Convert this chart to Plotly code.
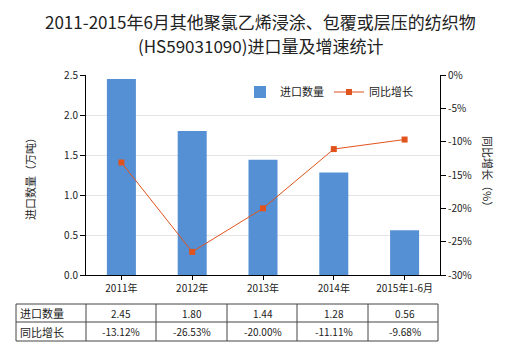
import plotly.graph_objects as go

categories = ["2011年", "2012年", "2013年", "2014年", "2015年1-6月"]
import_qty = [2.45, 1.80, 1.44, 1.28, 0.56]
growth = [-13.12, -26.53, -20.00, -11.11, -9.68]
qty_labels = ["2.45", "1.80", "1.44", "1.28", "0.56"]
growth_labels = ["-13.12%", "-26.53%", "-20.00%", "-11.11%", "-9.68%"]
left_ticks = [0, 0.5, 1.0, 1.5, 2.0, 2.5]
left_ticktext = ["0.0", "0.5", "1.0", "1.5", "2.0", "2.5"]
right_ticks = [0, -5, -10, -15, -20, -25, -30]
right_ticktext = ["0%", "-5%", "-10%", "-15%", "-20%", "-25%", "-30%"]
row_names = ["进口数量", "同比增长"]
title_lines = ["2011-2015年6月其他聚氯乙烯浸涂、包覆或层压的纺织物", "(HS59031090)进口量及增速统计"]

FONT = "Noto Sans CJK SC"
BAR = "#5590D5"
LINE = "#E0531C"

fig = go.Figure()
fig.add_trace(go.Bar(x=categories, y=import_qty, name="进口数量",
                     marker=dict(color=BAR, line=dict(width=0)), width=0.41))
fig.add_trace(go.Scatter(x=categories, y=growth, name="同比增长", yaxis="y2",
                         mode="lines+markers",
                         line=dict(color=LINE, width=1),
                         marker=dict(symbol="square", size=6, color=LINE)))

W, H = 520, 350
L, R, T, B = 86, 80, 75, 75
ph = H - T - B
pw = W - L - R

fig.update_layout(
    width=W, height=H, margin=dict(l=L, r=R, t=T, b=B),
    paper_bgcolor="white", plot_bgcolor="white",
    font=dict(family=FONT, size=10, color="#222"),
    showlegend=True,
    legend=dict(orientation="h", x=0.435, y=0.915, xanchor="left", yanchor="middle",
                bgcolor="rgba(0,0,0,0)", font=dict(size=11, color="#222"),
                itemwidth=30),
    xaxis=dict(showline=True, linecolor="#000", linewidth=1, ticks="outside",
               ticklen=4, tickcolor="#000", tickfont=dict(size=10),
               range=[-0.5, 4.5]),
    yaxis=dict(range=[0, 2.5], tickvals=left_ticks, ticktext=left_ticktext,
               showline=True, linecolor="#000", linewidth=1, ticks="outside",
               ticklen=5, tickcolor="#000", showgrid=True, gridcolor="#e4e4e4",
               zeroline=False, tickfont=dict(size=10)),
    yaxis2=dict(range=[-30, 0], tickvals=right_ticks, ticktext=right_ticktext,
                overlaying="y", side="right", showline=True, linecolor="#000",
                linewidth=1, ticks="outside", ticklen=5, tickcolor="#000",
                showgrid=False, zeroline=False, tickfont=dict(size=10)),
)

def py(pix):
    return (H - B - pix) / ph

def px(pix):
    return (pix - L) / pw

table_top, row_mid, table_bot = 304, 322, 341
table_left = 16
col_edges = [86, 156, 227, 297, 368, 438]
shapes = []
lc = dict(color="#444", width=1)
for yy in [table_top, row_mid, table_bot]:
    shapes.append(dict(type="line", xref="paper", yref="paper",
                       x0=px(table_left), x1=px(col_edges[-1]), y0=py(yy), y1=py(yy), line=lc))
for xx in [table_left] + col_edges:
    shapes.append(dict(type="line", xref="paper", yref="paper",
                       x0=px(xx), x1=px(xx), y0=py(table_top), y1=py(table_bot), line=lc))
fig.update_layout(shapes=shapes)

ann = []
for i, (t, yc) in enumerate(zip(title_lines, [21, 45])):
    ann.append(dict(text=t, xref="paper", yref="paper", x=px(260), y=py(yc),
                    xanchor="center", yanchor="middle", showarrow=False,
                    font=dict(size=17, color="#222", family=FONT)))
ann.append(dict(text="进口数量（万吨）", xref="paper", yref="paper", x=px(30), y=py(176),
                xanchor="center", yanchor="middle", textangle=-90, showarrow=False,
                font=dict(size=11, color="#222")))
ann.append(dict(text="同比增长（%）", xref="paper", yref="paper", x=px(488), y=py(174),
                xanchor="center", yanchor="middle", textangle=90, showarrow=False,
                font=dict(size=11, color="#222")))
rows = [qty_labels, growth_labels]
row_centers = [(table_top + row_mid) / 2, (row_mid + table_bot) / 2]
for r, labels in enumerate(rows):
    ann.append(dict(text=row_names[r], xref="paper", yref="paper", x=px(table_left + 2),
                    y=py(row_centers[r]), xanchor="left", yanchor="middle",
                    showarrow=False, font=dict(size=11, color="#222")))
    for c, cat in enumerate(categories):
        ann.append(dict(text=labels[c], xref="x", yref="paper", x=cat,
                        y=py(row_centers[r]), xanchor="center", yanchor="middle",
                        showarrow=False, font=dict(size=10, color="#222")))
fig.update_layout(annotations=ann)

fig.write_html("out.html")
